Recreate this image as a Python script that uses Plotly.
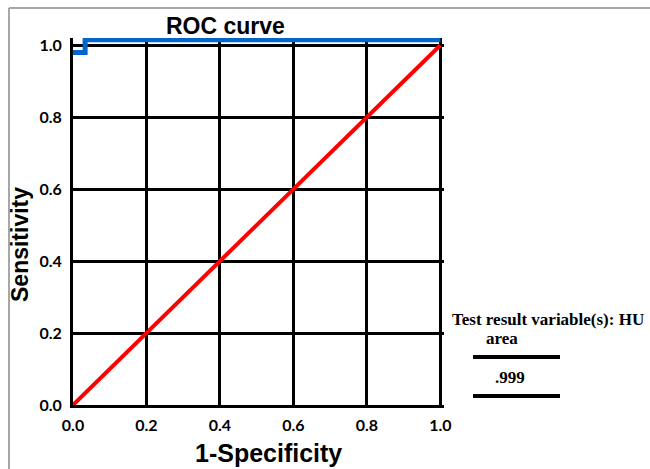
import plotly.graph_objects as go

# Data
diag_x = [0.0, 1.0]
diag_y = [0.0, 1.0]
roc_fpr = [0.0, 0.033, 0.033, 1.0]
roc_tpr = [0.98, 0.98, 1.015, 1.015]
tick_vals = [0.0, 0.2, 0.4, 0.6, 0.8, 1.0]
tick_text = ["0.0", "0.2", "0.4", "0.6", "0.8", "1.0"]
auc_label = ".999"
var_label = "Test result variable(s): HU"

W, H = 650, 469
L, R, T, B = 73, 206, 38, 64
PW, PH = W - L - R, H - T - B


def px(x):
    return (x - L) / PW


def py(y):
    return (H - B - y) / PH


fig = go.Figure()
fig.add_trace(go.Scatter(x=diag_x, y=diag_y, mode="lines",
                         line=dict(color="#ff0000", width=4), hoverinfo="skip"))
fig.add_trace(go.Scatter(x=roc_fpr, y=roc_tpr, mode="lines",
                         line=dict(color="#0066cc", width=5), hoverinfo="skip"))

tickfont = dict(family="Lato", size=16, color="black", weight="bold")
fig.update_xaxes(range=[0, 1.01], tickvals=tick_vals, ticktext=tick_text,
                 showgrid=True, gridcolor="black", gridwidth=3,
                 zeroline=False, showline=True, linecolor="black", linewidth=3,
                 ticks="", ticklabelstandoff=4, tickfont=tickfont, fixedrange=True)
fig.update_yaxes(range=[0, 1.02], tickvals=tick_vals, ticktext=tick_text,
                 showgrid=True, gridcolor="black", gridwidth=3,
                 zeroline=False, showline=True, linecolor="black", linewidth=3,
                 ticks="", ticklabelstandoff=5, tickfont=tickfont, fixedrange=True)

titlefont = dict(family="'Liberation Sans', Arial, sans-serif", color="black", weight="bold")
serif = dict(family="'Liberation Serif', 'Times New Roman', serif", size=17, color="black", weight="bold")

ann = [
    dict(text="ROC curve", x=px(225), y=py(26), font=dict(size=23, **titlefont)),
    dict(text="1-Specificity", x=px(268), y=py(453), font=dict(size=25, **titlefont)),
    dict(text="Sensitivity", x=px(20), y=py(245), textangle=-90, font=dict(size=23, **titlefont)),
    dict(text=var_label, x=px(548), y=py(319), font=serif),
    dict(text="area", x=px(502), y=py(338), font=serif),
    dict(text=auc_label, x=px(510), y=py(377), font=serif),
]
for a in ann:
    fig.add_annotation(xref="paper", yref="paper", showarrow=False,
                       xanchor="center", yanchor="middle", **a)

shapes = [
    dict(type="line", x0=px(473), x1=px(560), y0=py(357), y1=py(357),
         line=dict(color="black", width=4)),
    dict(type="line", x0=px(473), x1=px(560), y0=py(396), y1=py(396),
         line=dict(color="black", width=4)),
    dict(type="line", x0=px(9), x1=px(652), y0=py(8), y1=py(8),
         line=dict(color="#8a8a8a", width=1.5)),
    dict(type="line", x0=px(9), x1=px(9), y0=py(8), y1=py(472),
         line=dict(color="#8a8a8a", width=1.5)),
]
for s in shapes:
    fig.add_shape(xref="paper", yref="paper", layer="above", **s)

fig.update_layout(width=W, height=H, margin=dict(l=L, r=R, t=T, b=B, pad=0),
                  plot_bgcolor="white", paper_bgcolor="white", showlegend=False)

fig.write_html("out.html", config={"displayModeBar": False},
               post_script="document.body.style.margin='0px';document.body.style.overflow='hidden';")
